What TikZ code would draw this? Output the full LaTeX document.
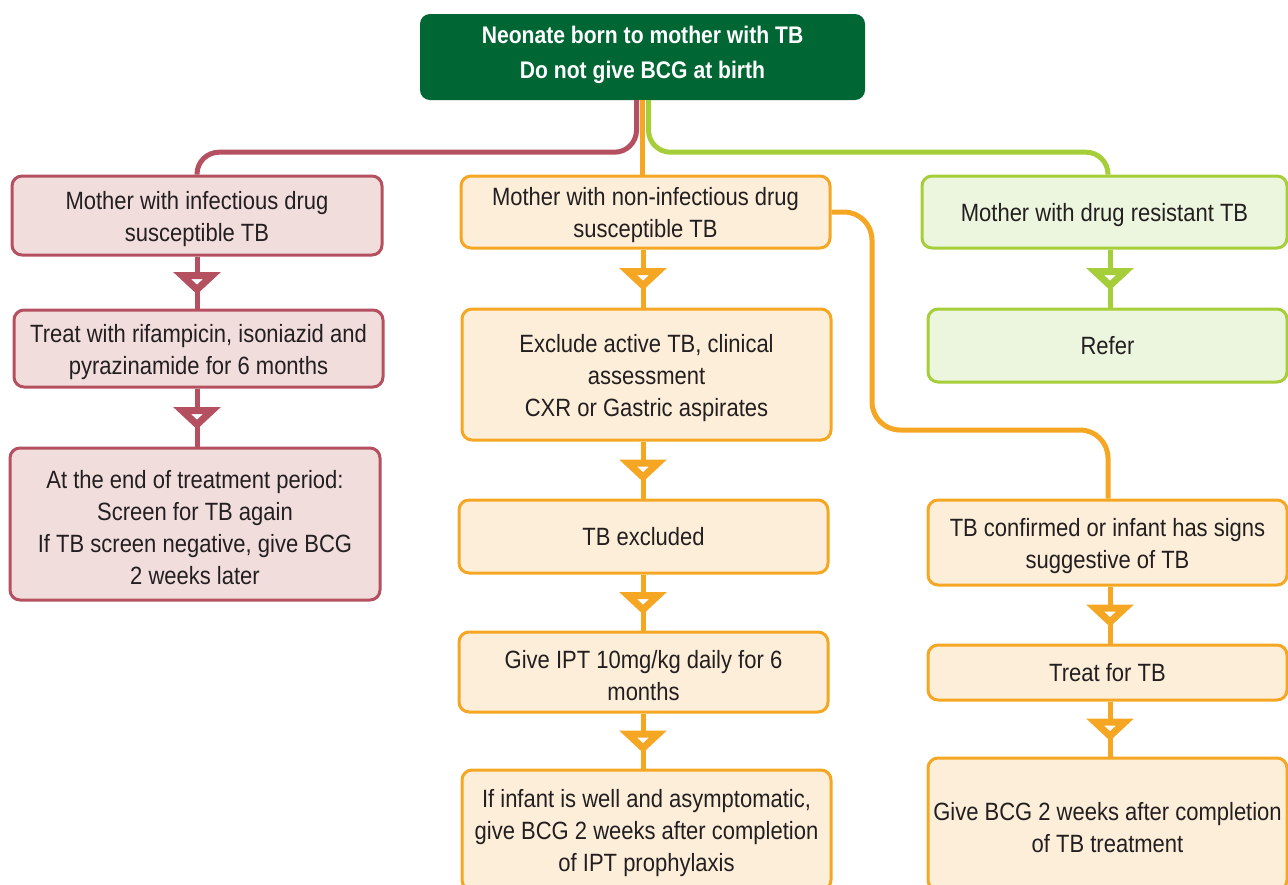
\documentclass[tikz,border=0pt]{standalone}
\usepackage{fontspec}
\setmainfont{Liberation Sans}[FakeStretch=0.88]
\usetikzlibrary{calc}
\definecolor{topgreen}{RGB}{0,102,51}
\definecolor{redc}{RGB}{181,80,96}
\definecolor{redf}{RGB}{242,221,221}
\definecolor{orc}{RGB}{245,166,35}
\definecolor{orf}{RGB}{253,238,217}
\definecolor{grc}{RGB}{166,206,57}
\definecolor{grf}{RGB}{236,245,222}
\definecolor{txt}{RGB}{35,31,32}
\newcommand{\st}{\rule{0pt}{25pt}}
\tikzset{
  box/.style={draw, line width=3pt, rounded corners=10pt, align=center, text=txt,
    font=\fontsize{25}{32}\selectfont, inner sep=0pt},
  redbox/.style={box, draw=redc, fill=redf},
  orbox/.style={box, draw=orc, fill=orf},
  grbox/.style={box, draw=grc, fill=grf},
  conn/.style={line width=5pt},
  tri/.style={line width=7pt, fill=white, line join=miter},
}
\newcommand{\flowarrow}[4]{% color, from, to, x
  \draw[conn, #1] (#4,0 |- #2.south) -- (#4,0 |- #3.north) coordinate[pos=0.5] (tmpm);
  \draw[tri, draw=#1] ($(tmpm)+(-15,-7)$) -- ($(tmpm)+(15,-7)$) -- ($(tmpm)+(0,7)$) -- cycle;
}
\begin{document}
\begin{tikzpicture}[x=1pt,y=-1pt]
\useasboundingbox (0,0) rectangle (1288,884);
\clip (0,0) rectangle (1288,884);
% top
\node[draw=none, fill=topgreen, text=white, rounded corners=10pt, align=center, inner sep=0pt,
  font=\bfseries\fontsize{24}{35}\selectfont,
  minimum width=445pt, minimum height=86pt] (top) at (642.5,57) {Neonate born to mother with TB\\Do not give BCG at birth\rule[-10pt]{0pt}{10pt}};
% left column
\node[redbox, minimum width=370pt, minimum height=79pt] (L1) at (197,215.5) {\st Mother with infectious drug\\susceptible TB};
\node[redbox, minimum width=369pt, minimum height=77pt] (L2) at (198.5,348.5) {\st Treat with rifampicin, isoniazid and\\pyrazinamide for 6 months};
\node[redbox, minimum width=370pt, minimum height=152pt] (L3) at (195,524) {\st At the end of treatment period:\\Screen for TB again\\If TB screen negative, give BCG\\2 weeks later};
% middle column
\node[orbox, minimum width=369pt, minimum height=72pt] (M1) at (645.5,212) {\st Mother with non-infectious drug\\susceptible TB};
\node[orbox, minimum width=369pt, minimum height=131pt] (M2) at (646.5,374.5) {\st Exclude active TB, clinical\\assessment\\CXR or Gastric aspirates};
\node[orbox, minimum width=369pt, minimum height=73pt] (M3) at (643.5,536.5) {TB excluded};
\node[orbox, minimum width=369pt, minimum height=80pt] (M4) at (643.5,672) {\st Give IPT 10mg/kg daily for 6\\months};
\node[orbox, minimum width=369pt, minimum height=120pt] (M5) at (646.5,830) {\st If infant is well and asymptomatic,\\give BCG 2 weeks after completion\\of IPT prophylaxis};
% right column
\node[grbox, minimum width=365pt, minimum height=72pt] (G1) at (1104.5,212) {\st Mother with drug resistant TB};
\node[grbox, minimum width=359pt, minimum height=73pt] (G2) at (1107.5,345.5) {Refer};
\node[orbox, minimum width=359pt, minimum height=85pt] (R1) at (1107.5,542.5) {\st TB confirmed or infant has signs\\suggestive of TB};
\node[orbox, minimum width=359pt, minimum height=55pt] (R2) at (1107.5,672.5) {Treat for TB};
\node[orbox, minimum width=359pt, minimum height=132pt] (R3) at (1107.5,824) {\st Give BCG 2 weeks after completion\\of TB treatment};
% connectors from top
\coordinate (gx) at (1108,0);
\draw[conn, redc, rounded corners=22pt] ([xshift=-6pt]top.south) -- ++(0,52) -| (L1.north);
\draw[conn, grc, rounded corners=22pt] ([xshift=6pt]top.south) -- ++(0,52) -| (gx |- G1.north);
\draw[conn, orc] (top.south) -- (top.south |- M1.north);
% branch to right orange
\coordinate (bend) at (872,430);
\draw[conn, orc, rounded corners=28pt] (M1.east) -| (bend) -| (gx |- R1.north);
% arrows
\flowarrow{redc}{L1}{L2}{197}
\flowarrow{redc}{L2}{L3}{197}
\flowarrow{orc}{M1}{M2}{643}
\flowarrow{orc}{M2}{M3}{643}
\flowarrow{orc}{M3}{M4}{643}
\flowarrow{orc}{M4}{M5}{643}
\flowarrow{grc}{G1}{G2}{1110}
\flowarrow{orc}{R1}{R2}{1110}
\flowarrow{orc}{R2}{R3}{1110}
\end{tikzpicture}
\end{document}
